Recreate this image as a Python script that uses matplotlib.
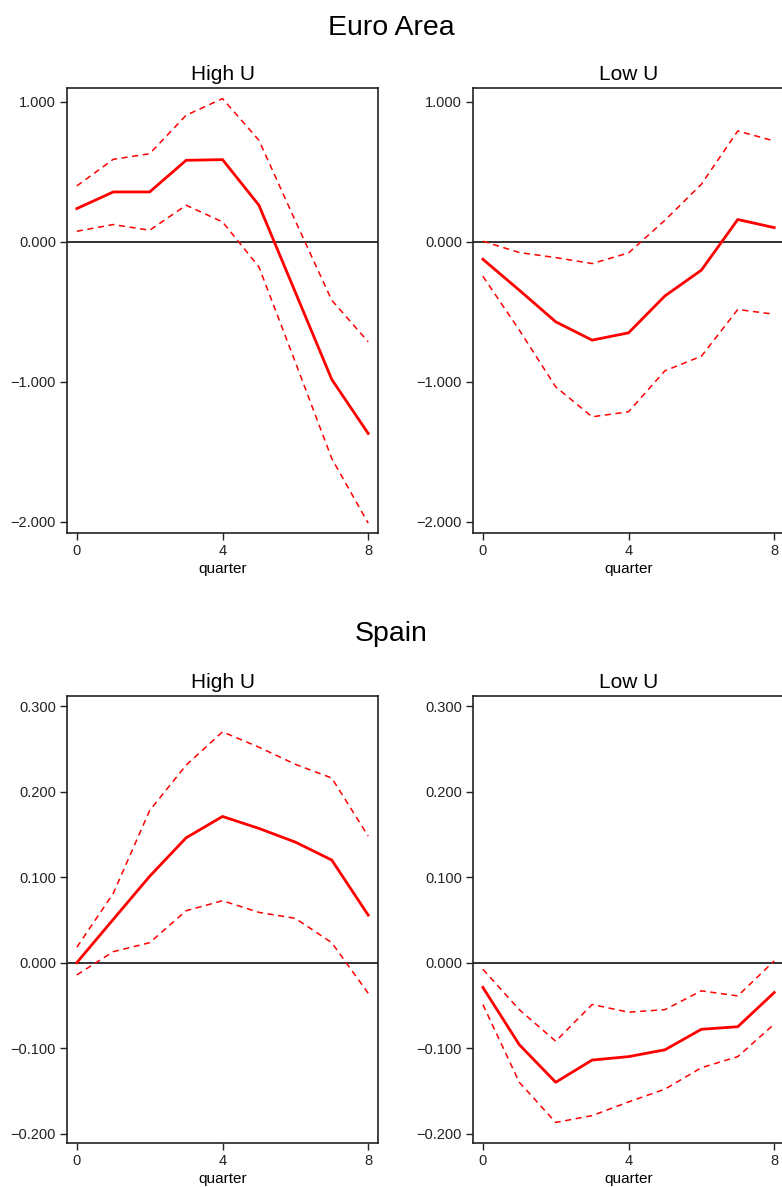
import matplotlib
matplotlib.use("Agg")
import matplotlib.pyplot as plt
import numpy as np
from matplotlib.ticker import FuncFormatter

plt.rcParams['font.family'] = ['Liberation Sans', 'DejaVu Sans']

quarters = np.arange(0, 9)

# Euro Area, high unemployment
ea_high = [0.238, 0.357, 0.357, 0.583, 0.588, 0.262, -0.36, -0.983, -1.369]
ea_high_up = [0.40, 0.59, 0.63, 0.905, 1.024, 0.726, 0.15, -0.417, -0.714]
ea_high_lo = [0.076, 0.124, 0.083, 0.262, 0.143, -0.179, -0.86, -1.548, -2.01]

# Euro Area, low unemployment
ea_low = [-0.124, -0.345, -0.571, -0.702, -0.65, -0.386, -0.202, 0.16, 0.102]
ea_low_up = [0.005, -0.076, -0.112, -0.155, -0.079, 0.155, 0.412, 0.793, 0.721]
ea_low_lo = [-0.245, -0.63, -1.036, -1.25, -1.214, -0.921, -0.817, -0.483, -0.517]

# Spain, high unemployment
es_high = [0.000, 0.0506, 0.101, 0.146, 0.171, 0.157, 0.141, 0.120, 0.0556]
es_high_up = [0.018, 0.081, 0.178, 0.231, 0.270, 0.252, 0.232, 0.216, 0.148]
es_high_lo = [-0.0144, 0.0128, 0.0233, 0.0607, 0.0724, 0.0588, 0.0518, 0.0233, -0.0358]

# Spain, low unemployment
es_low = [-0.029, -0.096, -0.140, -0.114, -0.110, -0.102, -0.078, -0.075, -0.035]
es_low_up = [-0.0078, -0.055, -0.092, -0.049, -0.058, -0.055, -0.033, -0.039, 0.002]
es_low_lo = [-0.049, -0.140, -0.187, -0.179, -0.163, -0.148, -0.123, -0.110, -0.072]

x_ticks = [0, 4, 8]
ea_yticks = [1.0, 0.0, -1.0, -2.0]
es_yticks = [0.3, 0.2, 0.1, 0.0, -0.1, -0.2]


def fmt3(v, pos):
    s = '%.3f' % abs(v)
    return ('\u2212' + s) if v < -1e-9 else s


fig = plt.figure(figsize=(7.82, 11.87), dpi=100)

W = 0.3977
panels = [
    ([0.0857, 0.5510, W, 0.3749], "High U", ea_high, ea_high_up, ea_high_lo, ea_yticks, (-2.08, 1.10)),
    ([0.6049, 0.5510, W, 0.3749], "Low U", ea_low, ea_low_up, ea_low_lo, ea_yticks, (-2.08, 1.10)),
    ([0.0857, 0.0371, W, 0.3766], "High U", es_high, es_high_up, es_high_lo, es_yticks, (-0.211, 0.312)),
    ([0.6049, 0.0371, W, 0.3766], "Low U", es_low, es_low_up, es_low_lo, es_yticks, (-0.211, 0.312)),
]

for rect, title, mid, up, lo, yt, ylim in panels:
    ax = fig.add_axes(rect)
    ax.axhline(0, color='#222222', linewidth=1.3, zorder=1)
    ax.plot(quarters, mid, color='red', linewidth=2.0, zorder=3)
    ax.plot(quarters, up, color='red', linewidth=1.1, linestyle=(0, (4, 3)), zorder=2)
    ax.plot(quarters, lo, color='red', linewidth=1.1, linestyle=(0, (4, 3)), zorder=2)
    ax.set_xlim(-0.27, 8.27)
    ax.set_ylim(*ylim)
    ax.set_xticks(x_ticks)
    ax.set_yticks(yt)
    ax.yaxis.set_major_formatter(FuncFormatter(fmt3))
    ax.tick_params(axis='both', direction='out', length=5, width=1, labelsize=10.5,
                   colors='#222222', pad=3)
    ax.set_xlabel('quarter', fontsize=11, labelpad=3)
    ax.set_title(title, fontsize=15, pad=6)
    for sp in ax.spines.values():
        sp.set_linewidth(1.2)
        sp.set_color('#222222')

fig.text(0.5, 0.9765, 'Euro Area', ha='center', va='center', fontsize=20.5)
fig.text(0.5, 0.4655, 'Spain', ha='center', va='center', fontsize=20.5)

fig.savefig('out.png', dpi=100)
